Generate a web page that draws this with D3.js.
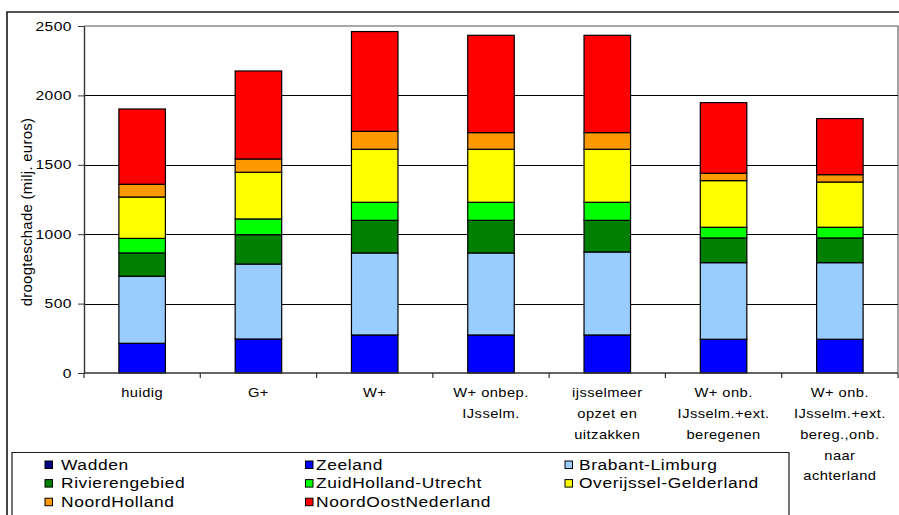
<!DOCTYPE html>
<html>
<head>
<meta charset="utf-8">
<script src="https://cdn.jsdelivr.net/npm/d3@7/dist/d3.min.js"></script>
<style>
  html, body { margin: 0; padding: 0; background: #fff; }
  svg { display: block; font-family: "Liberation Sans", Arial, sans-serif; }
</style>
</head>
<body>
<svg id="chart" width="899" height="515"></svg>
<script>
// Scenario labels (one entry per line of the axis label)
const categoryLines = [
  ["huidig"],
  ["G+"],
  ["W+"],
  ["W+ onbep.", "IJsselm."],
  ["ijsselmeer", "opzet en", "uitzakken"],
  ["W+ onb.", "IJsselm.+ext.", "beregenen"],
  ["W+ onb.", "IJsselm.+ext.", "bereg.,onb.", "naar", "achterland"]
];
const categories = categoryLines.map(l => l.join(" "));

// Drought damage per region (milj. euros)
const regions = ["Wadden", "Zeeland", "Brabant-Limburg", "Rivierengebied",
                 "ZuidHolland-Utrecht", "Overijssel-Gelderland", "NoordHolland", "NoordOostNederland"];
const wadden       = [0, 0, 0, 0, 0, 0, 0];
const zeeland      = [214, 245, 274, 274, 274, 243, 243];
const brabant      = [483, 540, 591, 591, 598, 552, 552];
const rivieren     = [168, 212, 235, 235, 228, 178, 178];
const zuidHolland  = [105, 113, 130, 130, 130, 77, 77];
const overijssel   = [298, 336, 382, 382, 382, 336, 326];
const noordHolland = [92, 96, 129, 120, 120, 53, 53];
const noordOost    = [542, 634, 719, 701, 701, 509, 404];
const seriesValues = [wadden, zeeland, brabant, rivieren, zuidHolland, overijssel, noordHolland, noordOost];

const regionColors = ["#000080", "#0000FF", "#99CCFF", "#008000", "#00FF00", "#FFFF00", "#FF9900", "#FF0000"];

const yTicks = [0, 500, 1000, 1500, 2000, 2500];
const yTitle = "droogteschade (milj. euros)";

// ---- layout ----
const svg = d3.select("#chart");
const plot = { left: 84, right: 898, top: 26, bottom: 373 };

const rows = categories.map((c, i) => {
  const r = { category: c };
  regions.forEach((reg, k) => { r[reg] = seriesValues[k][i]; });
  return r;
});
const stacked = d3.stack().keys(regions)(rows);

const x = d3.scaleBand()
  .domain(categories)
  .range([plot.left, plot.right])
  .paddingInner(0.6)
  .paddingOuter(0.3);

const y = d3.scaleLinear()
  .domain([0, 2500])
  .range([plot.bottom, plot.top]);

// wide text helper: horizontally stretched glyphs
function wideText(parent, px, py, sx, size, spacing) {
  return parent.append("text")
    .attr("transform", `translate(${px},${py}) scale(${sx},1)`)
    .attr("fill", "#000")
    .style("font-size", size + "px")
    .style("letter-spacing", spacing + "px");
}

// outer chart frame
svg.append("path")
  .attr("d", `M7,515 V12 H899`)
  .attr("fill", "none")
  .attr("stroke", "#1a1a1a")
  .attr("stroke-width", 1.6);

// plot area border (top and right)
svg.append("path")
  .attr("d", `M${plot.left},${plot.top} H${plot.right} V${plot.bottom}`)
  .attr("fill", "none")
  .attr("stroke", "#8c8c8c")
  .attr("stroke-width", 1.6);

// gridlines
svg.append("g")
  .selectAll("line")
  .data(yTicks.filter(t => t > 0 && t < 2500))
  .join("line")
  .attr("x1", plot.left).attr("x2", plot.right)
  .attr("y1", d => Math.round(y(d)) + 0.5).attr("y2", d => Math.round(y(d)) + 0.5)
  .attr("stroke", "#000")
  .attr("stroke-width", 1);

// stacked bars
svg.append("g")
  .selectAll("g")
  .data(stacked)
  .join("g")
  .attr("fill", (d, i) => regionColors[i])
  .selectAll("rect")
  .data(d => d.filter(s => s[1] - s[0] > 0))
  .join("rect")
  .attr("x", d => x(d.data.category))
  .attr("width", x.bandwidth())
  .attr("y", d => y(d[1]))
  .attr("height", d => y(d[0]) - y(d[1]))
  .attr("stroke", "#000")
  .attr("stroke-width", 1.2);

// y axis (ticks from the axis generator, labels drawn wide)
const yAxis = svg.append("g")
  .attr("transform", `translate(${plot.left},0)`)
  .call(d3.axisLeft(y).tickValues(yTicks).tickSize(6).tickSizeOuter(0).tickFormat(""));
yAxis.select(".domain").attr("stroke", "#333").attr("stroke-width", 1.4);
yAxis.selectAll(".tick line").attr("stroke", "#333");
const yLabels = svg.append("g");
yTicks.forEach(t => {
  wideText(yLabels, plot.left - 12, y(t) + 4.6, 1.2, 13, 0.4)
    .attr("text-anchor", "end")
    .text(d3.format("d")(t));
});

// x axis baseline and category separators
const step = x.step();
const boundaries = categories.map(c => x(c) - step * 0.3).concat([plot.right]);
svg.append("line")
  .attr("x1", plot.left).attr("x2", plot.right)
  .attr("y1", plot.bottom).attr("y2", plot.bottom)
  .attr("stroke", "#333").attr("stroke-width", 1.4);
svg.append("g")
  .selectAll("line")
  .data(boundaries)
  .join("line")
  .attr("x1", d => d).attr("x2", d => d)
  .attr("y1", plot.bottom).attr("y2", plot.bottom + 5)
  .attr("stroke", "#333").attr("stroke-width", 1.2);

// category labels
const xLabelG = svg.append("g");
categories.forEach((c, i) => {
  const cx = x(c) + x.bandwidth() / 2;
  const t = wideText(xLabelG, cx, 0, 1.13, 13, 0.4).attr("text-anchor", "middle");
  t.selectAll("tspan")
    .data(categoryLines[i])
    .join("tspan")
    .attr("x", 0)
    .attr("y", (d, k) => 397.5 + k * 20.7)
    .text(d => d);
});

// y axis title
svg.append("text")
  .attr("transform", "translate(32,212) rotate(-90) scale(1.1,1.12)")
  .attr("text-anchor", "middle")
  .attr("fill", "#000")
  .style("font-size", "13.5px")
  .style("letter-spacing", "0.3px")
  .text(yTitle);

// legend
const legend = svg.append("g");
legend.append("path")
  .attr("d", "M12,515 V452.5 H789 V515")
  .attr("fill", "#fff")
  .attr("stroke", "#1a1a1a")
  .attr("stroke-width", 1.2);

const legendCols = [{ sw: 45, tx: 61 }, { sw: 305.5, tx: 316 }, { sw: 565, tx: 579 }];
regions.forEach((reg, i) => {
  const col = legendCols[i % 3];
  const row = Math.floor(i / 3);
  const cy = 464.5 + row * 18.6;
  legend.append("rect")
    .attr("x", col.sw).attr("y", cy - 3.5)
    .attr("width", 7.5).attr("height", 7.5)
    .attr("fill", regionColors[i])
    .attr("stroke", "#000").attr("stroke-width", 1);
  wideText(legend, col.tx, cy + 5.3, 1.2, 14.5, 0.5).text(reg);
});
</script>
</body>
</html>
